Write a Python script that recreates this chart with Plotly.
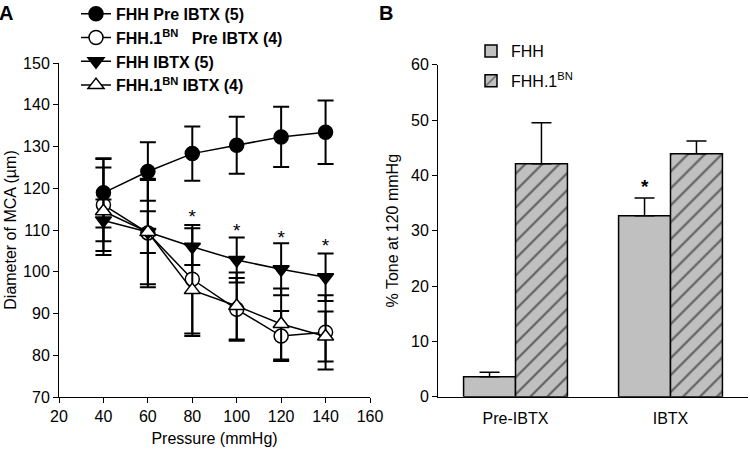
import plotly.graph_objects as go

# ---------------- Panel A data ----------------
pressure = [40, 60, 80, 100, 120, 140]
fhh_pre = [118.9, 124.0, 128.3, 130.3, 132.3, 133.4]
fhh_pre_err = [8.3, 7.0, 6.5, 6.8, 7.2, 7.6]
bn_pre = [116.0, 109.3, 98.2, 91.0, 84.6, 85.5]
bn_pre_err = [11.0, 13.0, 13.0, 7.5, 6.0, 8.9]
fhh_ibtx = [112.3, 109.5, 106.0, 102.8, 100.6, 98.7]
fhh_ibtx_err = [5.0, 5.0, 4.4, 5.4, 6.2, 5.7]
bn_ibtx = [114.5, 109.5, 95.6, 91.8, 87.5, 84.5]
bn_ibtx_err = [10.5, 12.5, 11.0, 8.0, 8.5, 6.0]
star_a_x = [80, 100, 120, 140]
star_a_y = [112.8, 109.5, 107.9, 105.9]

# ---------------- Panel B data ----------------
conditions = ["Pre-IBTX", "IBTX"]
tone_fhh = [3.6, 32.7]
tone_fhh_err = [0.8, 3.2]
tone_bn = [42.1, 43.9]
tone_bn_err = [7.4, 2.3]
star_b_y = 38.0

FONT = "Arial, Liberation Sans, sans-serif"
fig = go.Figure()

def add_series(y, err, name, symbol, fill, group):
    fig.add_trace(go.Scatter(
        x=pressure, y=y, name=name, mode="lines+markers",
        line=dict(color="black", width=1.5),
        marker=dict(symbol=symbol, size=14, color=fill,
                    line=dict(color="black", width=1.5)),
        error_y=dict(type="data", array=err, visible=True,
                     color="black", thickness=2, width=8),
        xaxis="x", yaxis="y", legend="legend", legendgroup=group))

add_series(fhh_pre, fhh_pre_err, "<b>FHH Pre IBTX (5)</b>", "circle", "black", "a1")
add_series(bn_pre, bn_pre_err, "<b>FHH.1<sup>BN</sup>\u00a0\u00a0\u00a0Pre IBTX (4)</b>", "circle", "white", "a2")
add_series(fhh_ibtx, fhh_ibtx_err, "<b>FHH IBTX (5)</b>", "triangle-down", "black", "a3")
add_series(bn_ibtx, bn_ibtx_err, "<b>FHH.1<sup>BN</sup> IBTX (4)</b>", "triangle-up", "white", "a4")

fig.add_trace(go.Scatter(
    x=star_a_x, y=star_a_y, mode="text", text=["*"] * len(star_a_x),
    textfont=dict(family=FONT, size=19, color="black"),
    showlegend=False, hoverinfo="skip", xaxis="x", yaxis="y"))

# ---------------- Panel B bars ----------------
fig.add_trace(go.Bar(
    x=conditions, y=tone_fhh, name="FHH",
    marker=dict(color="#c0c0c0", line=dict(color="black", width=1.5)),
    error_y=dict(type="data", symmetric=False, array=tone_fhh_err,
                 arrayminus=[0, 0], color="black", thickness=1.5, width=10),
    xaxis="x2", yaxis="y2", legend="legend2", legendgroup="b1"))
fig.add_trace(go.Bar(
    x=conditions, y=tone_bn, name="FHH.1<sup>BN</sup>",
    marker=dict(color="#c0c0c0", line=dict(color="black", width=1.5),
                pattern=dict(shape="/", fgcolor="black", bgcolor="#c0c0c0",
                             size=12, solidity=0.18)),
    error_y=dict(type="data", symmetric=False, array=tone_bn_err,
                 arrayminus=[0, 0], color="black", thickness=1.5, width=10),
    xaxis="x2", yaxis="y2", legend="legend2", legendgroup="b2"))

axis_common = dict(showline=True, linecolor="black", linewidth=1,
                   ticks="outside", ticklen=5, tickcolor="black",
                   showgrid=False, zeroline=False,
                   tickfont=dict(family=FONT, size=16, color="black"))

fig.update_layout(
    width=750, height=455,
    margin=dict(l=0, r=0, t=0, b=0, autoexpand=False),
    paper_bgcolor="white", plot_bgcolor="white",
    font=dict(family=FONT, color="black"),
    barmode="group", bargap=0.33, bargroupgap=0,
    xaxis=dict(domain=[59/750, 370/750], range=[20, 160], dtick=20,
               tick0=20, anchor="y",
               title=dict(text="Pressure (mmHg)", standoff=8,
                          font=dict(family=FONT, size=16)),
               **axis_common),
    yaxis=dict(domain=[(455-397)/455, (455-63)/455], range=[70, 150],
               dtick=10, anchor="x",
               title=dict(text="Diameter of MCA (µm)", standoff=2,
                          font=dict(family=FONT, size=16)),
               **axis_common),
    xaxis2=dict(domain=[438/750, 748/750], range=[-0.5, 1.5], anchor="y2",
                showline=True, linecolor="black", linewidth=1, ticks="",
                showgrid=False, zeroline=False, ticklabelstandoff=7,
                tickfont=dict(family=FONT, size=16, color="black")),
    yaxis2=dict(domain=[(455-396.7)/455, (455-64.7)/455], range=[0, 60],
                dtick=10, anchor="x2",
                title=dict(text="% Tone at 120 mmHg", standoff=8,
                           font=dict(family=FONT, size=16)),
                **axis_common),
    legend=dict(x=76/750, y=1.007, xanchor="left", yanchor="top",
                bgcolor="rgba(0,0,0,0)", font=dict(family=FONT, size=16),
                itemwidth=30, tracegroupgap=0),
    legend2=dict(x=471/750, y=421/455, xanchor="left", yanchor="top",
                 bgcolor="rgba(0,0,0,0)", font=dict(family=FONT, size=16),
                 tracegroupgap=6),
    annotations=[
        dict(text="<b>A</b>", x=0, y=1.0, xref="paper", yref="paper",
             xanchor="left", yanchor="top", xshift=-3, showarrow=False,
             font=dict(family=FONT, size=20)),
        dict(text="<b>B</b>", x=377/750, y=1.0, xref="paper", yref="paper",
             xanchor="left", yanchor="top", showarrow=False,
             font=dict(family=FONT, size=20)),
        dict(text="<b>*</b>", x="IBTX", y=star_b_y, xref="x2", yref="y2",
             xshift=-26, showarrow=False, font=dict(family=FONT, size=19)),
    ],
)

fig.write_html("out.html", config={"displayModeBar": False},
               post_script="document.body.style.margin='0px';")
